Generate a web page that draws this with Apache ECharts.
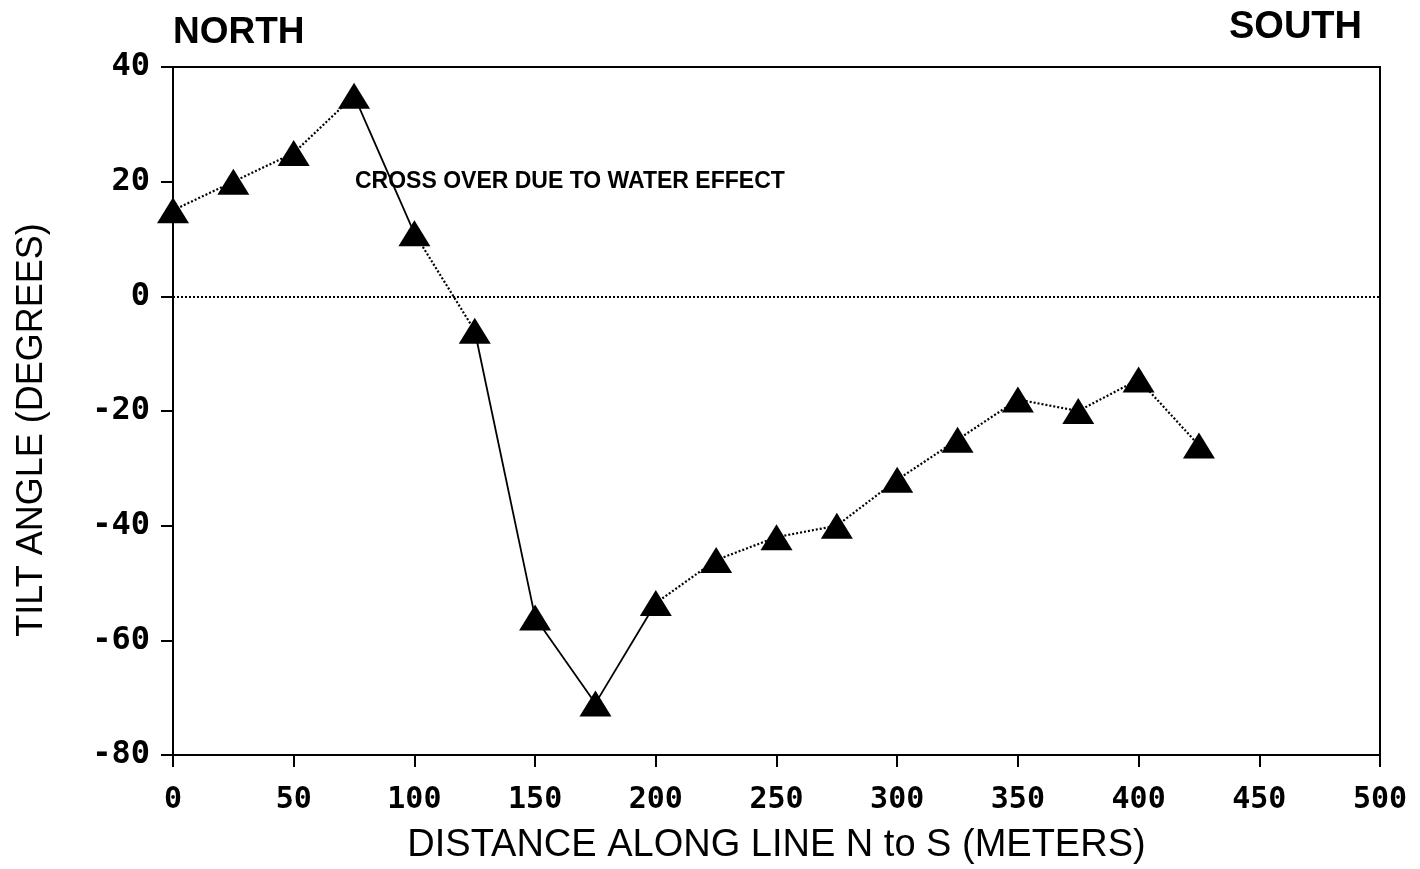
<!DOCTYPE html>
<html>
<head>
<meta charset="utf-8">
<script src="https://cdn.jsdelivr.net/npm/echarts@6/dist/echarts.min.js"></script>
<style>
  html, body { margin: 0; padding: 0; background: #fff; }
  #chart { width: 1420px; height: 869px; }
</style>
</head>
<body>
<div id="chart"></div>
<script>
const distance = [0, 25, 50, 75, 100, 125, 150, 175, 200, 225, 250, 275, 300, 325, 350, 375, 400, 425];
const tilt = [15, 20, 25, 35, 11, -6, -56, -71, -53.5, -46, -42, -40, -32, -25, -18, -20, -14.5, -26];
// which segments look solid in the original (start index of each segment)
const solidSegments = [3, 5, 6, 7];

const xTicks = { min: 0, max: 500, step: 50 };
const yTicks = { min: -80, max: 40, step: 20 };

const points = distance.map((d, i) => [d, tilt[i]]);

// one line series per segment so each can keep its own dash style
const segmentSeries = [];
for (let i = 0; i < points.length - 1; i++) {
    const solid = solidSegments.includes(i);
    segmentSeries.push({
        type: 'line',
        data: [points[i], points[i + 1]],
        showSymbol: false,
        silent: true,
        lineStyle: { color: '#000', width: solid ? 1.8 : 2.2, type: solid ? 'solid' : [2, 2] },
        z: 2
    });
}

const chart = echarts.init(document.getElementById('chart'));
const labelFont = { color: '#000', fontFamily: 'DejaVu Sans Mono', fontWeight: 'bold' };

chart.setOption({
    animation: false,
    backgroundColor: '#fff',
    grid: { left: 173, right: 40, top: 67, bottom: 114, outerBoundsMode: 'none', show: true, borderColor: '#000', borderWidth: 2 },
    xAxis: {
        type: 'value', min: xTicks.min, max: xTicks.max, interval: xTicks.step,
        name: 'DISTANCE ALONG LINE N to S (METERS)',
        nameLocation: 'middle', nameGap: 72,
        nameTextStyle: { color: '#000', fontFamily: 'Liberation Sans', fontSize: 38 },
        axisLine: { onZero: false, lineStyle: { color: '#000', width: 2 } },
        axisTick: { inside: false, length: 12, lineStyle: { color: '#000', width: 2 } },
        axisLabel: Object.assign({ margin: 30, fontSize: 30 }, labelFont),
        splitLine: { show: false }
    },
    yAxis: {
        type: 'value', min: yTicks.min, max: yTicks.max, interval: yTicks.step,
        axisLine: { onZero: false, lineStyle: { color: '#000', width: 2 } },
        axisTick: { inside: false, length: 12, lineStyle: { color: '#000', width: 2 } },
        axisLabel: Object.assign({ margin: 23, fontSize: 32 }, labelFont),
        splitLine: { show: false }
    },
    graphic: [
        { type: 'text', left: 173, top: 14, style: { text: 'NORTH', fill: '#000', font: 'bold 37px "Liberation Sans"' } },
        { type: 'text', right: 58, top: 9, style: { text: 'SOUTH', fill: '#000', font: 'bold 38px "Liberation Sans"' } },
        { type: 'text', left: 355, top: 170, style: { text: 'CROSS OVER DUE TO WATER EFFECT', fill: '#000', font: 'bold 23px "Liberation Sans"' } },
        { type: 'text', x: 32, y: 430, rotation: Math.PI / 2,
          style: { text: 'TILT ANGLE (DEGREES)', fill: '#000', font: '36px "Liberation Sans"', align: 'center', verticalAlign: 'middle' } }
    ],
    series: segmentSeries.concat([{
        type: 'line',
        data: points,
        lineStyle: { opacity: 0 },
        symbol: 'triangle',
        symbolSize: [32, 26],
        itemStyle: { color: '#000' },
        z: 3,
        markLine: {
            silent: true,
            symbol: 'none',
            label: { show: false },
            lineStyle: { color: '#000', type: [2, 2], width: 1.8 },
            data: [{ yAxis: 0 }]
        }
    }])
});
</script>
</body>
</html>
